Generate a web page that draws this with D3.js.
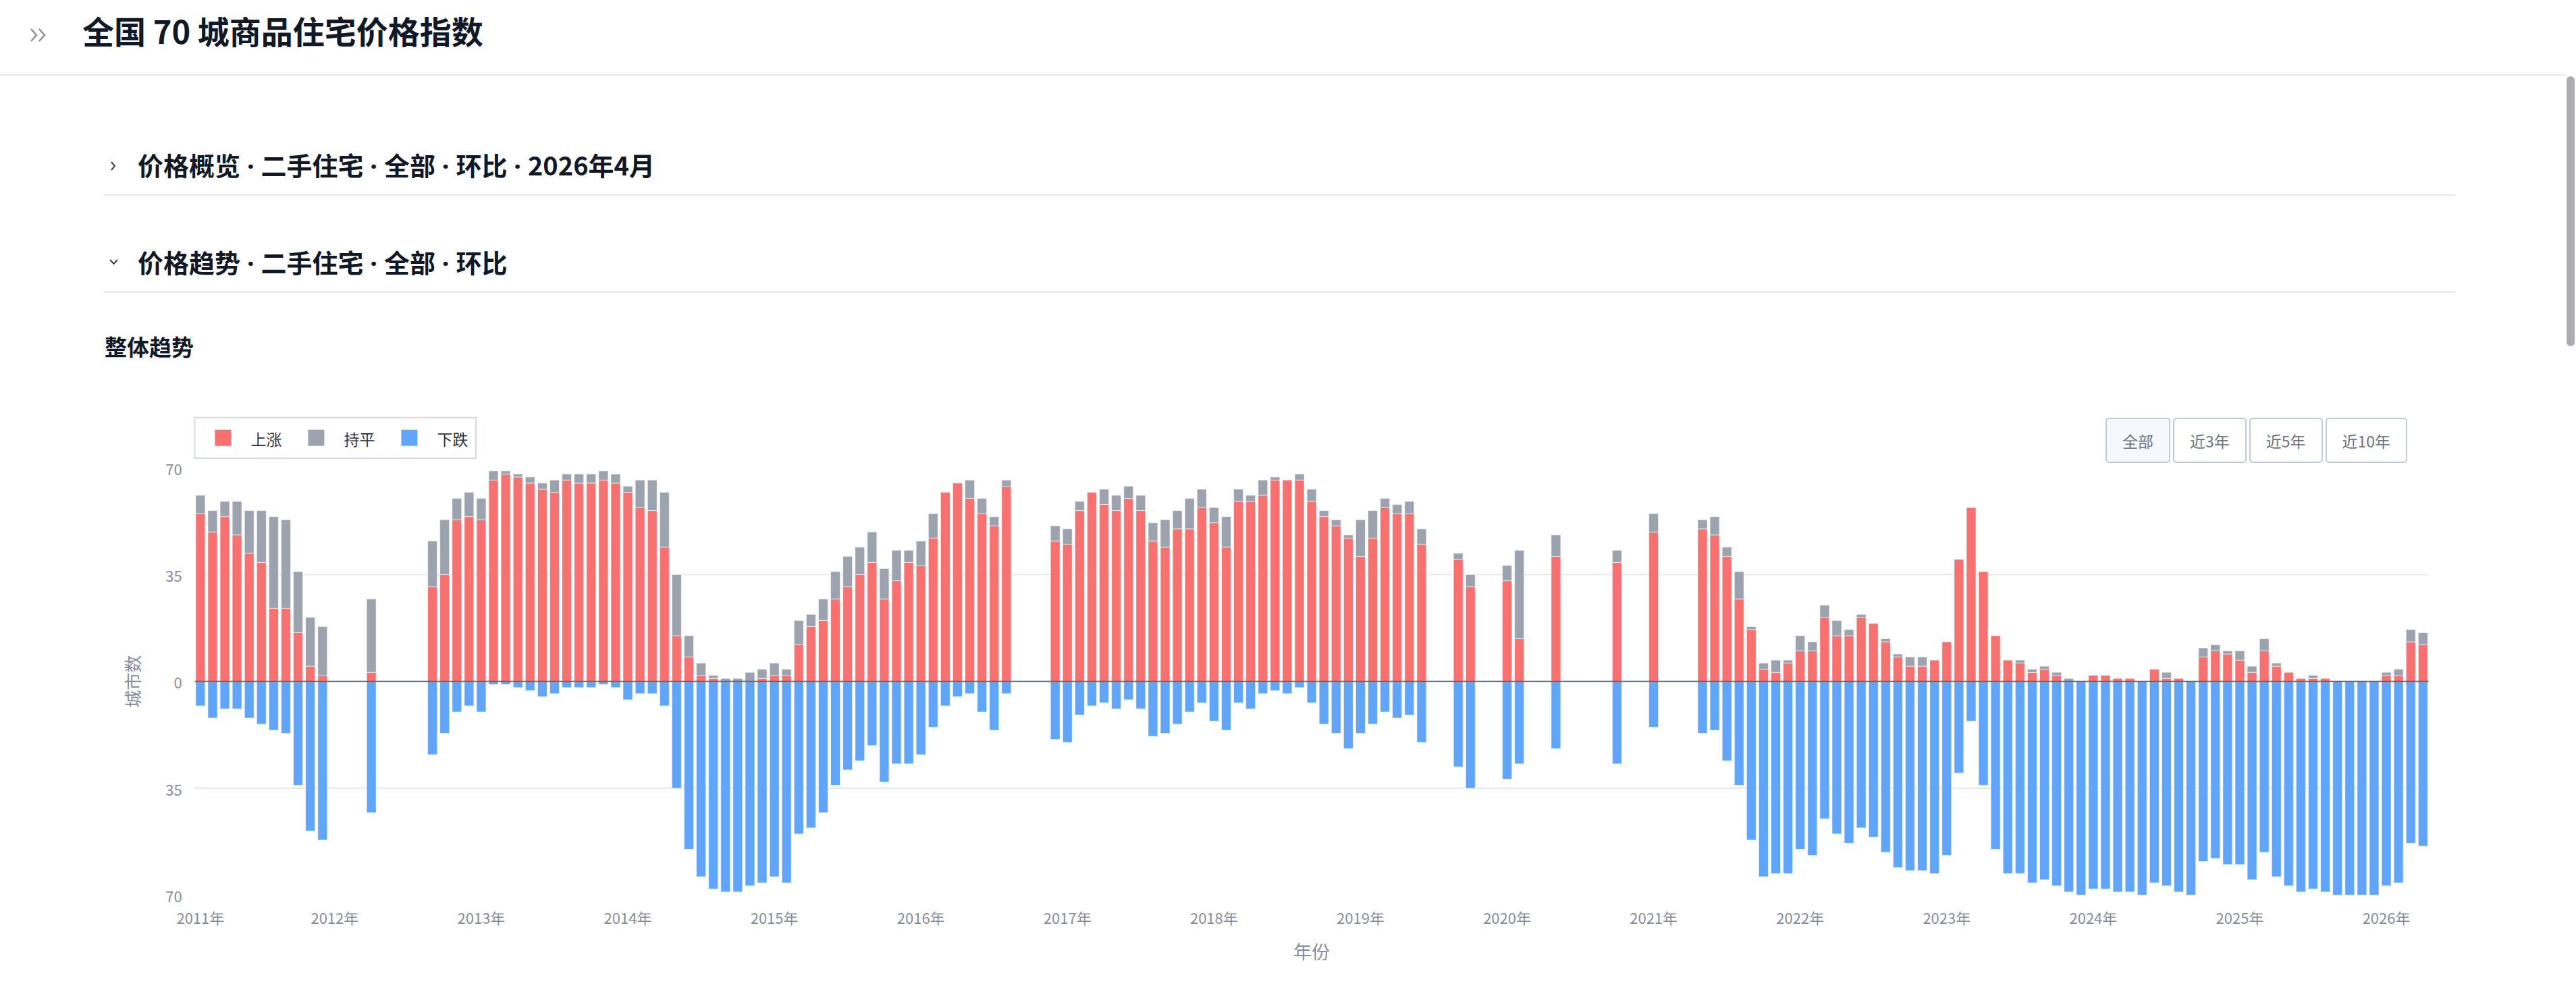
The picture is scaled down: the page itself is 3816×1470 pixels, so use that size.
<!DOCTYPE html>
<html>
<head>
<meta charset="utf-8">
<title>全国 70 城商品住宅价格指数</title>
<script src="https://d3js.org/d3.v7.min.js"></script>
<style>
  body { margin: 0; width: 3816px; height: 1470px; overflow: hidden; background: #fff;
         font-family: "Noto Sans CJK SC", "Noto Sans", sans-serif; color: #111827; position: relative; }
  #topbar { position: absolute; left: 0; top: 0; width: 3800px; height: 110px; border-bottom: 2px solid #e5e7eb; }
  #page-title { position: absolute; left: 122px; top: 21px; font-size: 47px; line-height: 47px; font-weight: 700; }
  .icon { position: absolute; overflow: visible; }
  .section { position: absolute; left: 154px; width: 3483px; border-bottom: 2px solid #e5e7eb; }
  .section span { position: absolute; left: 50px; font-size: 38px; line-height: 38px; font-weight: 700; white-space: pre; }
  .section span i { font-style: normal; font-family: "Noto Sans", sans-serif; }
  #subtitle { position: absolute; left: 155px; top: 497px; font-size: 33px; line-height: 33px; font-weight: 700; }
  #range-buttons { position: absolute; left: 3119px; top: 619px; display: flex; gap: 4px; }
  #range-buttons button { height: 67px; padding: 0 23px; border: 2px solid #c3cad9; border-radius: 5px;
         background: #fff; color: #6b7280; font-family: inherit; font-size: 23px; }
  #range-buttons button.active { background: #f5f8ff; }
  #chart { position: absolute; left: 0; top: 600px; }
  #scrollbar { position: absolute; left: 3802px; top: 113px; width: 12px; height: 400px; border-radius: 6px; background: #adacb2; }
</style>
</head>
<body>
<div id="topbar">
  <svg class="icon" style="left:0;top:0" width="100" height="100">
    <polyline points="46,43 54,52 46,61" fill="none" stroke="#8b8f99" stroke-width="2.5"/>
    <polyline points="58,43 66,52 58,61" fill="none" stroke="#8b8f99" stroke-width="2.5"/>
  </svg>
  <div id="page-title">全国 70 城商品住宅价格指数</div>
</div>
<div class="section" style="top:200px;height:88px">
  <svg class="icon" style="left:0;top:0" width="40" height="88">
    <polyline points="11,40 16,46 11,52" fill="none" stroke="#374151" stroke-width="2"/>
  </svg>
  <span style="top:25px">价格概览<i> · </i>二手住宅<i> · </i>全部<i> · </i>环比<i> · </i>2026年4月</span>
</div>
<div class="section" style="top:344px;height:88px">
  <svg class="icon" style="left:0;top:0" width="40" height="88">
    <polyline points="9,41 14.5,47 20,41" fill="none" stroke="#374151" stroke-width="2"/>
  </svg>
  <span style="top:25px">价格趋势<i> · </i>二手住宅<i> · </i>全部<i> · </i>环比</span>
</div>
<div id="subtitle">整体趋势</div>
<div id="range-buttons">
  <button class="active">全部</button><button>近3年</button><button>近5年</button><button>近10年</button>
</div>
<svg id="chart" width="3816" height="840"></svg>
<div id="scrollbar"></div>

<script>
// 月份（2011-02 至 2026-04）
const months = [
  "2011-02","2011-03","2011-04","2011-05","2011-06","2011-07","2011-08","2011-09","2011-10","2011-11","2011-12",
  "2012-01","2012-02","2012-03","2012-04","2012-05","2012-06","2012-07","2012-08","2012-09","2012-10","2012-11","2012-12",
  "2013-01","2013-02","2013-03","2013-04","2013-05","2013-06","2013-07","2013-08","2013-09","2013-10","2013-11","2013-12",
  "2014-01","2014-02","2014-03","2014-04","2014-05","2014-06","2014-07","2014-08","2014-09","2014-10","2014-11","2014-12",
  "2015-01","2015-02","2015-03","2015-04","2015-05","2015-06","2015-07","2015-08","2015-09","2015-10","2015-11","2015-12",
  "2016-01","2016-02","2016-03","2016-04","2016-05","2016-06","2016-07","2016-08","2016-09","2016-10","2016-11","2016-12",
  "2017-01","2017-02","2017-03","2017-04","2017-05","2017-06","2017-07","2017-08","2017-09","2017-10","2017-11","2017-12",
  "2018-01","2018-02","2018-03","2018-04","2018-05","2018-06","2018-07","2018-08","2018-09","2018-10","2018-11","2018-12",
  "2019-01","2019-02","2019-03","2019-04","2019-05","2019-06","2019-07","2019-08","2019-09","2019-10","2019-11","2019-12",
  "2020-01","2020-02","2020-03","2020-04","2020-05","2020-06","2020-07","2020-08","2020-09","2020-10","2020-11","2020-12",
  "2021-01","2021-02","2021-03","2021-04","2021-05","2021-06","2021-07","2021-08","2021-09","2021-10","2021-11","2021-12",
  "2022-01","2022-02","2022-03","2022-04","2022-05","2022-06","2022-07","2022-08","2022-09","2022-10","2022-11","2022-12",
  "2023-01","2023-02","2023-03","2023-04","2023-05","2023-06","2023-07","2023-08","2023-09","2023-10","2023-11","2023-12",
  "2024-01","2024-02","2024-03","2024-04","2024-05","2024-06","2024-07","2024-08","2024-09","2024-10","2024-11","2024-12",
  "2025-01","2025-02","2025-03","2025-04","2025-05","2025-06","2025-07","2025-08","2025-09","2025-10","2025-11","2025-12",
  "2026-01","2026-02","2026-03","2026-04"
];

const n = null;
// 上涨城市数
const rise = [
  55,49,54,48,42,39,24,24,16,5,2,
  n,n,n,3,n,n,n,n,31,35,53,54,
  53,66,68,67,65,63,62,66,65,65,66,65,
  62,57,56,44,15,8,2,1,0,0,0,1,
  2,2,12,18,20,27,31,35,39,27,33,39,
  38,47,62,65,60,55,51,64,n,n,n,46,
  45,56,62,58,56,60,56,46,44,50,50,57,
  52,44,59,59,61,66,66,66,59,54,51,47,
  41,47,57,55,55,45,n,n,40,31,n,n,
  33,14,n,n,41,n,n,n,n,39,n,n,
  49,n,n,n,50,48,41,27,17,4,3,6,
  10,10,21,15,15,21,19,13,8,5,5,7,
  13,40,57,36,15,7,6,3,4,2,0,0,
  2,2,1,1,0,4,1,1,0,8,10,9,
  7,3,10,5,3,1,1,1,0,0,0,0,
  2,2,13,12
];
// 持平城市数
const flat = [
  6,7,5,11,14,17,30,29,20,16,16,
  n,n,n,24,n,n,n,n,15,18,7,8,
  7,3,1,1,2,2,4,2,3,3,3,3,
  2,9,10,18,20,7,4,1,1,1,3,3,
  4,2,8,4,7,9,10,9,10,10,10,4,
  8,8,0,0,6,5,3,2,n,n,n,5,
  5,3,0,5,5,4,5,6,9,6,10,6,
  5,10,4,2,5,1,0,2,4,2,2,1,
  12,9,3,3,4,5,n,n,2,4,n,n,
  5,29,n,n,7,n,n,n,n,4,n,n,
  6,n,n,n,3,6,3,9,1,2,4,1,
  5,3,4,5,2,1,0,1,1,3,3,0,
  0,0,0,0,0,0,1,1,1,1,1,0,
  0,0,0,0,0,0,2,0,0,3,2,1,
  3,2,4,1,0,0,1,0,0,0,0,0,
  1,2,4,4
];
// 下跌城市数
const fall = [
  8,12,9,9,12,14,16,17,34,49,52,
  n,n,n,43,n,n,n,n,24,17,10,8,
  10,1,1,2,3,5,4,2,2,2,1,2,
  6,4,4,8,35,55,64,68,69,69,67,66,
  64,66,50,48,43,34,29,26,21,33,27,27,
  24,15,8,5,4,10,16,4,n,n,n,19,
  20,11,8,7,9,6,9,18,17,14,10,7,
  13,16,7,9,4,3,4,2,7,14,17,22,
  17,14,10,12,11,20,n,n,28,35,n,n,
  32,27,n,n,22,n,n,n,n,27,n,n,
  15,n,n,n,17,16,26,34,52,64,63,63,
  55,57,45,50,53,48,51,56,61,62,62,63,
  57,30,13,34,55,63,63,66,65,67,69,70,
  68,68,69,69,70,66,67,69,70,59,58,60,
  60,65,56,64,67,69,68,69,70,70,70,70,
  67,66,53,54
];

const tickMonths = ["2011-02","2012-01","2013-01","2014-01","2015-01","2016-01","2017-01","2018-01",
                    "2019-01","2020-01","2021-01","2022-01","2023-01","2024-01","2025-01","2026-01"];
const tickLabels = ["2011年","2012年","2013年","2014年","2015年","2016年","2017年","2018年",
                    "2019年","2020年","2021年","2022年","2023年","2024年","2025年","2026年"];
const yTicks = [-70, -35, 0, 35, 70];
const legendNames = ["上涨", "持平", "下跌"];
const colors = { rise: "#f87171", flat: "#9ca3af", fall: "#60a5fa" };

const svg = d3.select("#chart");
const plotLeft = 288.6, plotRight = 3597.6, plotTop = 93.3, plotBottom = 726.3;
const axisColor = "#878c9d";

const x = d3.scaleBand().domain(months).range([plotLeft, plotRight]).paddingInner(0.226).paddingOuter(0.07);
const y = d3.scaleLinear().domain([-70, 70]).range([plotBottom, plotTop]);

// grid lines at ±35
svg.append("g")
  .selectAll("line")
  .data([-35, 35])
  .join("line")
  .attr("x1", plotLeft).attr("x2", plotRight)
  .attr("y1", d => y(d)).attr("y2", d => y(d))
  .attr("stroke", "#e5e9f0").attr("stroke-width", 2);

const rows = months.map((m, i) => ({ m, r: rise[i], f: flat[i], d: fall[i] }))
  .filter(d => d.r !== null);

const bars = svg.append("g").attr("stroke", "rgba(255,255,255,0.6)").attr("stroke-width", 1);

bars.selectAll("rect.rise").data(rows.filter(d => d.r > 0)).join("rect")
  .attr("class", "rise")
  .attr("x", d => x(d.m)).attr("width", x.bandwidth())
  .attr("y", d => y(d.r)).attr("height", d => y(0) - y(d.r))
  .attr("fill", colors.rise);

bars.selectAll("rect.flat").data(rows.filter(d => d.f > 0)).join("rect")
  .attr("class", "flat")
  .attr("x", d => x(d.m)).attr("width", x.bandwidth())
  .attr("y", d => y(d.r + d.f)).attr("height", d => y(d.r) - y(d.r + d.f))
  .attr("fill", colors.flat);

bars.selectAll("rect.fall").data(rows.filter(d => d.d > 0)).join("rect")
  .attr("class", "fall")
  .attr("x", d => x(d.m)).attr("width", x.bandwidth())
  .attr("y", y(0)).attr("height", d => y(-d.d) - y(0))
  .attr("fill", colors.fall);

// zero line
svg.append("line")
  .attr("x1", plotLeft).attr("x2", plotRight)
  .attr("y1", y(0)).attr("y2", y(0))
  .attr("stroke", "#5b6579").attr("stroke-width", 2);

// y axis
const yAxis = svg.append("g")
  .attr("transform", `translate(${plotLeft},0)`)
  .call(d3.axisLeft(y).tickValues(yTicks).tickFormat(d => Math.abs(d)).tickSize(0).tickPadding(19));
yAxis.select(".domain").remove();
yAxis.selectAll("text").attr("fill", axisColor).attr("font-size", 22)
  .attr("font-family", "Noto Sans CJK SC").attr("dy", null).attr("dominant-baseline", "central");

// x axis
const labelOf = d3.scaleOrdinal().domain(tickMonths).range(tickLabels);
const xAxis = svg.append("g")
  .attr("transform", `translate(0,${plotBottom})`)
  .call(d3.axisBottom(x).tickValues(tickMonths).tickFormat(labelOf).tickSize(0));
xAxis.select(".domain").remove();
xAxis.selectAll("text").attr("fill", axisColor).attr("font-size", 22)
  .attr("font-family", "Noto Sans CJK SC")
  .attr("y", 33).attr("dy", null).attr("dominant-baseline", "central");

// axis titles
svg.append("text")
  .attr("x", (plotLeft + plotRight) / 2).attr("y", 809)
  .attr("text-anchor", "middle").attr("dominant-baseline", "central")
  .attr("fill", axisColor).attr("font-size", 27)
  .text("年份");

svg.append("text")
  .attr("transform", `translate(195,${y(0)}) rotate(-90)`)
  .attr("text-anchor", "middle").attr("dominant-baseline", "central")
  .attr("fill", axisColor).attr("font-size", 26)
  .text("城市数");

// legend
const legend = svg.append("g");
legend.append("rect")
  .attr("x", 288.5).attr("y", 18.7).attr("width", 416.5).attr("height", 60.3)
  .attr("fill", "#fff").attr("stroke", "#d5dae1").attr("stroke-width", 2);
const item = legend.selectAll("g.item")
  .data(legendNames.map((name, i) => ({ name, color: [colors.rise, colors.flat, colors.fall][i], i })))
  .join("g")
  .attr("transform", d => `translate(${318.4 + d.i * 138},0)`);
item.append("rect").attr("y", 36.7).attr("width", 24).attr("height", 24).attr("fill", d => d.color);
item.append("text")
  .attr("x", 53).attr("y", 49.5).attr("dominant-baseline", "central")
  .attr("fill", "#2f3340").attr("font-size", 23)
  .text(d => d.name);
</script>
</body>
</html>
